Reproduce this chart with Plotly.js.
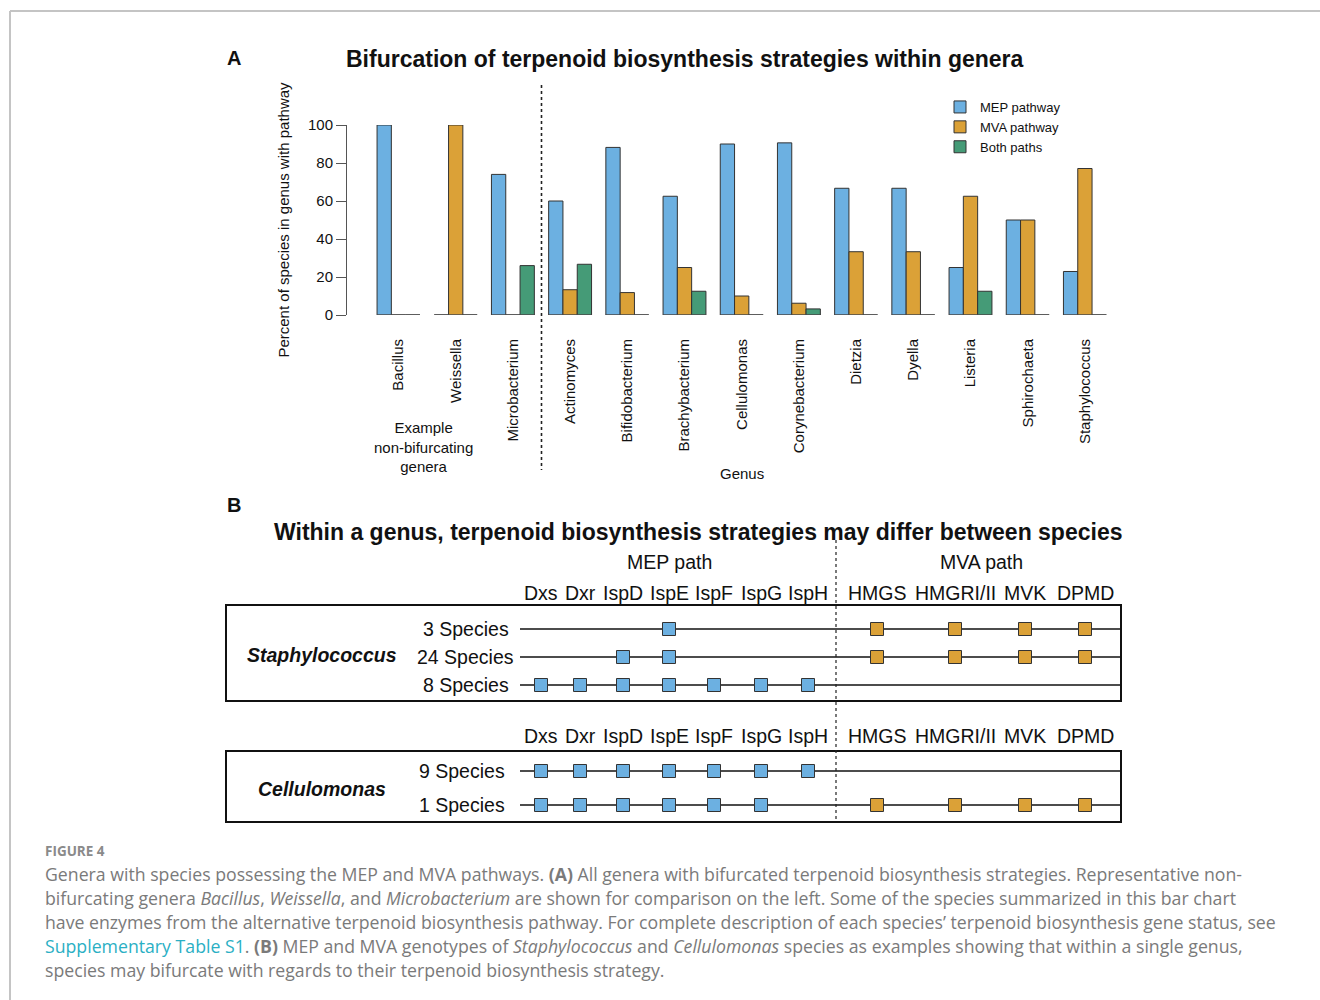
<!DOCTYPE html>
<html>
<head>
<meta charset="utf-8">
<script src="https://cdn.plot.ly/plotly-3.0.1.min.js"></script>
<style>
  html, body { margin: 0; padding: 0; background: #fff; }
  #chart { width: 1320px; height: 1000px; }
</style>
</head>
<body>
<div id="chart"></div>
<script>
// ---------------- DATA: Panel A ----------------
const genera = ['Bacillus','Weissella','Microbacterium','Actinomyces','Bifidobacterium','Brachybacterium','Cellulomonas','Corynebacterium','Dietzia','Dyella','Listeria','Sphirochaeta','Staphylococcus'];
const mepPct  = [100, 0, 74, 60, 88.2, 62.5, 90, 90.6, 66.7, 66.7, 25, 50, 22.9];
const mvaPct  = [0, 100, 0, 13.3, 11.8, 25, 10, 6.2, 33.3, 33.3, 62.5, 50, 77.1];
const bothPct = [0, 0, 26, 26.7, 0, 12.5, 0, 3.2, 0, 0, 12.5, 0, 0];
const yTicks = [0, 20, 40, 60, 80, 100];

// ---------------- DATA: Panel B ----------------
const mepGenes = ['Dxs','Dxr','IspD','IspE','IspF','IspG','IspH'];
const mvaGenes = ['HMGS','HMGRI/II','MVK','DPMD'];
const staphRows = ['3 Species','24 Species','8 Species'];
const staphMep = [['IspE'], ['IspD','IspE'], ['Dxs','Dxr','IspD','IspE','IspF','IspG','IspH']];
const staphMva = [['HMGS','HMGRI/II','MVK','DPMD'], ['HMGS','HMGRI/II','MVK','DPMD'], []];
const celluRows = ['9 Species','1 Species'];
const celluMep = [['Dxs','Dxr','IspD','IspE','IspF','IspG','IspH'], ['Dxs','Dxr','IspD','IspE','IspF','IspG']];
const celluMva = [[], ['HMGS','HMGRI/II','MVK','DPMD']];

// ---------------- LAYOUT CONSTANTS ----------------
const W = 1320, H = 1000;
const BLUE = '#6cb0e1', ORANGE = '#dba137', GREEN = '#459b77', EDGE = '#333333';
const FONT = 'Liberation Sans, Arial, Helvetica, sans-serif';
const geneX = {Dxs:541, Dxr:580, IspD:623, IspE:669, IspF:714, IspG:761, IspH:808,
               'HMGS':877, 'HMGRI/II':955, 'MVK':1025, 'DPMD':1085};
const boxL = 226, boxR = 1121, lineStart = 520, divX = 836;
const staphRowY = [629, 657, 685];
const celluRowY = [771, 805];
const staphLabelRight = [511, 516, 511];
const celluLabelRight = [507, 507];

// panel A geometry (pixels)
const aLeft = 347, aRight = 1120, aTop = 125, aBottom = 315, catStep = 57.2, cat0 = 398.5;

const idx = genera.map((g, i) => i);
const traces = [];

// baselines under each group (R draws zero-height bars as flat outlines)
const bx = [], by = [];
idx.forEach(i => { bx.push(i - 0.375, i + 0.375, null); by.push(0, 0, null); });
traces.push({type:'scatter', mode:'lines', x:bx, y:by, xaxis:'x', yaxis:'y',
  line:{color:'#555', width:1}, showlegend:false, hoverinfo:'skip'});

const barCommon = {type:'bar', xaxis:'x', yaxis:'y', x: idx};
traces.push(Object.assign({}, barCommon, {name:'MEP pathway', y: mepPct, marker:{color:BLUE, line:{color:EDGE, width:1}}}));
traces.push(Object.assign({}, barCommon, {name:'MVA pathway', y: mvaPct, marker:{color:ORANGE, line:{color:EDGE, width:1}}}));
traces.push(Object.assign({}, barCommon, {name:'Both paths', y: bothPct, marker:{color:GREEN, line:{color:EDGE, width:1}}}));

// ---------------- Panel B traces ----------------
function rowTraces(rows, rowY, mepSets, mvaSets) {
  const lx = [], ly = [];
  rows.forEach((r, k) => { lx.push(lineStart, boxR, null); ly.push(rowY[k], rowY[k], null); });
  traces.push({type:'scatter', mode:'lines', x:lx, y:ly, xaxis:'x2', yaxis:'y2',
    line:{color:'#111', width:1.3}, showlegend:false, hoverinfo:'skip', cliponaxis:false});
  const mx = [], my = [], ox = [], oy = [];
  rows.forEach((r, k) => {
    mepGenes.forEach(g => { if (mepSets[k].includes(g)) { mx.push(geneX[g]); my.push(rowY[k]); } });
    mvaGenes.forEach(g => { if (mvaSets[k].includes(g)) { ox.push(geneX[g]); oy.push(rowY[k]); } });
  });
  traces.push({type:'scatter', mode:'markers', x:mx, y:my, xaxis:'x2', yaxis:'y2',
    marker:{symbol:'square', size:13, color:BLUE, line:{color:EDGE, width:1}},
    showlegend:false, hoverinfo:'skip', cliponaxis:false});
  traces.push({type:'scatter', mode:'markers', x:ox, y:oy, xaxis:'x2', yaxis:'y2',
    marker:{symbol:'square', size:13, color:ORANGE, line:{color:EDGE, width:1}},
    showlegend:false, hoverinfo:'skip', cliponaxis:false});
}
rowTraces(staphRows, staphRowY, staphMep, staphMva);
rowTraces(celluRows, celluRowY, celluMep, celluMva);

// ---------------- Annotations ----------------
const ann = [];
function T(x, y, text, o) {
  return Object.assign({xref:'x2', yref:'y2', x:x, y:y, text:text, showarrow:false,
    xanchor:'center', yanchor:'middle', font:{family:FONT, size:15, color:'#111'}}, o || {});
}
ann.push(T(234, 58, '<b>A</b>', {font:{family:FONT, size:20, color:'#111'}}));
ann.push(T(685, 59, '<b>Bifurcation of terpenoid biosynthesis strategies within genera</b>', {font:{family:FONT, size:23, color:'#111'}}));
ann.push(T(742, 473, 'Genus'));
ann.push(T(423, 447, 'Example<br>non-bifurcating<br>genera'));
ann.push(T(234, 505, '<b>B</b>', {font:{family:FONT, size:20, color:'#111'}}));
ann.push(T(698, 532, '<b>Within a genus, terpenoid biosynthesis strategies may differ between species</b>', {font:{family:FONT, size:23, color:'#111'}}));
ann.push(T(669, 562, 'MEP path', {font:{family:FONT, size:19.5, color:'#111'}}));
ann.push(T(981, 562, 'MVA path', {font:{family:FONT, size:19.5, color:'#111'}}));
[593, 736].forEach(hy => {
  mepGenes.concat(mvaGenes).forEach(g => ann.push(T(geneX[g], hy, g, {font:{family:FONT, size:19.5, color:'#111'}})));
});
staphRows.forEach((r, k) => ann.push(T(staphLabelRight[k], staphRowY[k], r, {xanchor:'right', font:{family:FONT, size:19.5, color:'#111'}})));
celluRows.forEach((r, k) => ann.push(T(celluLabelRight[k], celluRowY[k], r, {xanchor:'right', font:{family:FONT, size:19.5, color:'#111'}})));
ann.push(T(322, 655, '<b><i>Staphylococcus</i></b>', {font:{family:FONT, size:19.5, color:'#111'}}));
ann.push(T(322, 789, '<b><i>Cellulomonas</i></b>', {font:{family:FONT, size:19.5, color:'#111'}}));

// caption
const CAP = 'Open Sans, Lato, sans-serif';
const capLines = [
  'Genera with species possessing the MEP and MVA pathways. <b>(A)</b> All genera with bifurcated terpenoid biosynthesis strategies. Representative non-',
  'bifurcating genera <i>Bacillus</i>, <i>Weissella</i>, and <i>Microbacterium</i> are shown for comparison on the left. Some of the species summarized in this bar chart',
  'have enzymes from the alternative terpenoid biosynthesis pathway. For complete description of each species\u2019 terpenoid biosynthesis gene status, see',
  '<span style="color:#2aafc4">Supplementary Table S1</span>. <b>(B)</b> MEP and MVA genotypes of <i>Staphylococcus</i> and <i>Cellulomonas</i> species as examples showing that within a single genus,',
  'species may bifurcate with regards to their terpenoid biosynthesis strategy.'
];
ann.push(T(43, 851, '<b>FIGURE 4</b>', {xanchor:'left', font:{family:CAP, size:13.5, color:'#8a8a8a'}}));
capLines.forEach((t, k) => ann.push(T(43, 874 + 24 * k, t, {xanchor:'left', font:{family:CAP, size:17.7, color:'#7a7a7a'}})));

// ---------------- Shapes ----------------
const shapes = [
  {type:'line', xref:'x2', yref:'y2', x0:10, x1:1320, y0:11, y1:11, line:{color:'#c4c4c4', width:2}},
  {type:'line', xref:'x2', yref:'y2', x0:10, x1:10, y0:11, y1:1000, line:{color:'#c4c4c4', width:2}},
  {type:'line', xref:'x', yref:'y2', x0:2.5, x1:2.5, y0:85, y1:470, line:{color:'#222', width:1.6, dash:'dot'}},
  {type:'rect', xref:'x2', yref:'y2', x0:boxL, x1:boxR, y0:605, y1:701, line:{color:'#111', width:2}},
  {type:'rect', xref:'x2', yref:'y2', x0:boxL, x1:boxR, y0:751, y1:822, line:{color:'#111', width:2}},
  {type:'line', xref:'x2', yref:'y2', x0:divX, x1:divX, y0:540, y1:822, line:{color:'#222', width:1.2, dash:'dot'}}
];

const layout = {
  width: W, height: H,
  margin: {l:0, r:0, t:0, b:0},
  paper_bgcolor: '#fff', plot_bgcolor: 'rgba(0,0,0,0)',
  font: {family: FONT, color:'#111'},
  barmode: 'group', bargap: 0.25, bargroupgap: 0,
  showlegend: true,
  legend: {x: 940 / W, y: 1 - 92 / H, xanchor:'left', yanchor:'top', bgcolor:'rgba(0,0,0,0)',
           font:{family:FONT, size:13, color:'#111'}, tracegroupgap:0},
  xaxis: {domain:[aLeft / W, aRight / W], range:[(aLeft - cat0) / catStep, (aRight - cat0) / catStep],
          anchor:'y', tickmode:'array', tickvals: idx, ticktext: genera, tickangle:-90,
          ticks:'', showline:false, showgrid:false, zeroline:false, ticklabelstandoff: 20,
          tickfont:{family:FONT, size:15, color:'#111'}, fixedrange:true},
  yaxis: {domain:[1 - aBottom / H, 1 - aTop / H], range:[0, 100], anchor:'x',
          tickmode:'array', tickvals: yTicks, ticks:'outside', ticklen:10, tickcolor:'#555', tickwidth:1,
          showline:true, linecolor:'#555', linewidth:1, showgrid:false, zeroline:false,
          tickfont:{family:FONT, size:15, color:'#111'},
          title:{text:'Percent of species in genus with pathway', font:{family:FONT, size:15, color:'#111'}, standoff:14},
          fixedrange:true},
  xaxis2: {domain:[0, 1], range:[0, W], anchor:'y2', visible:false, fixedrange:true},
  yaxis2: {domain:[0, 1], range:[H, 0], anchor:'x2', visible:false, fixedrange:true},
  annotations: ann,
  shapes: shapes
};

Plotly.newPlot('chart', traces, layout, {displayModeBar:false, staticPlot:true});
</script>
</body>
</html>
